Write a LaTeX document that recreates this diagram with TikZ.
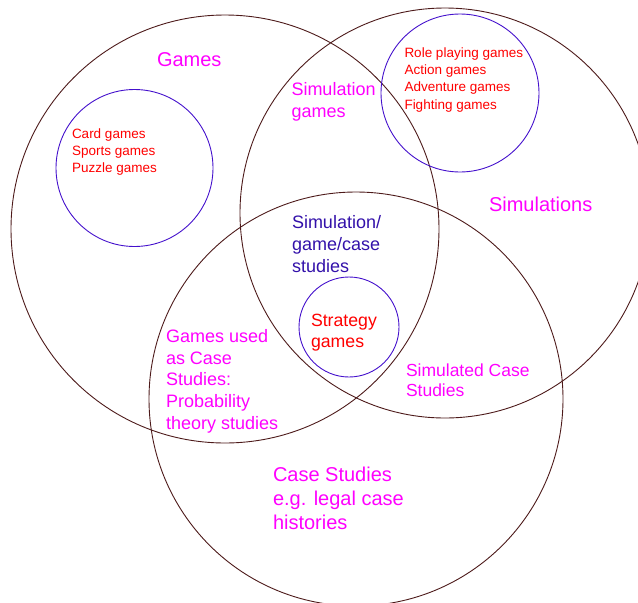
\documentclass[tikz,border=0pt]{standalone}
\usepackage{fontspec}
\setmainfont{Liberation Sans}
\definecolor{ringbrown}{RGB}{77,26,26}
\definecolor{ringblue}{RGB}{68,17,204}
\definecolor{labmag}{RGB}{255,0,255}
\definecolor{labred}{RGB}{255,0,0}
\definecolor{labindigo}{RGB}{51,17,170}
\begin{document}
\begin{tikzpicture}[x=1pt,y=-1pt,
  ring/.style={circle, inner sep=0pt, outer sep=0pt, line width=0.9pt, minimum size=#1},
  bigring/.style={ring=#1, draw=ringbrown},
  smallring/.style={ring=#1, draw=ringblue},
  lbl/.style={anchor=base west, inner sep=0pt, outer sep=0pt, align=left},
  bigtxt/.style={lbl, text=labmag, font=\fontsize{20}{24}\selectfont},
  midtxt/.style={lbl, text=labmag, font=\fontsize{18}{21.6}\selectfont},
  listtxt/.style={lbl, text=labred, font=\fontsize{13.5}{17.4}\selectfont}]
\useasboundingbox (0,0) rectangle (638,603);
\begin{scope}
\clip (0,0) rectangle (638,603);
\node[bigring=428pt] (games) at (225,229) {};
\node[bigring=410pt] (sims) at (445,213) {};
\node[bigring=414pt] (cases) at (356,399) {};
\node[smallring=157pt] (classic) at (134.5,168) {};
\node[smallring=158pt] (video) at (460,93) {};
\node[smallring=100pt] (strategy) at (349,327) {};
\end{scope}
% base anchor of a multi-line label = baseline of its last line
\node[bigtxt] (tgames) at (157,66) {Games};
\node[bigtxt] (tsims) at (489,211) {Simulations};
\node[bigtxt] (tcases) at (273,529) {Case Studies\\e.g. legal case\\histories};
\node[listtxt] (tclassic) at (72,172.8) {Card games\\Sports games\\Puzzle games};
\node[listtxt] (tvideo) at (404.5,109.2) {Role playing games\\Action games\\Adventure games\\Fighting games};
\node[midtxt] (tsimgames) at (291.5,117.1) {Simulation\\games};
\node[midtxt, text=labindigo, font=\fontsize{18}{22}\selectfont] (tall) at (292,272.3) {Simulation/\\game/case\\studies};
\node[midtxt, text=labred, font=\fontsize{17.7}{21}\selectfont] (tstrategy) at (311,347) {Strategy\\games};
\node[midtxt] (tgamecase) at (166,429.1) {Games used\\as Case\\Studies:\\Probability\\theory studies};
\node[midtxt, font=\fontsize{17.5}{20.5}\selectfont] (tsimcase) at (406,396.5) {Simulated Case\\Studies};
\end{tikzpicture}
\end{document}
